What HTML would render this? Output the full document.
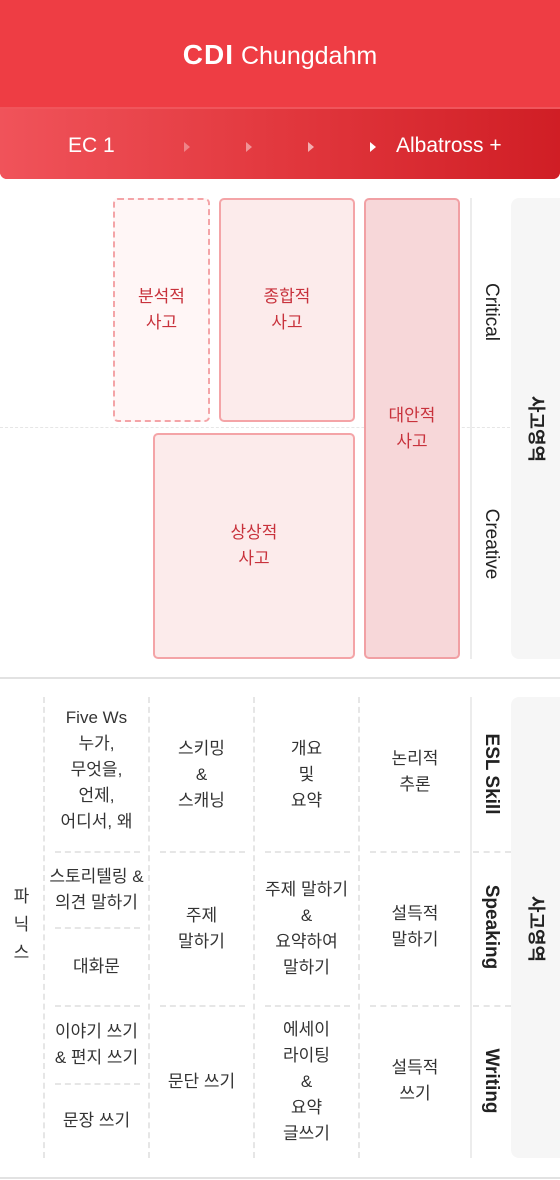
<!DOCTYPE html>
<html><head><meta charset="utf-8">
<style>
*{box-sizing:border-box;margin:0;padding:0}
body{width:560px;height:1180px;background:#fff;position:relative;overflow:hidden;font-family:"Liberation Sans","Noto Sans CJK KR",sans-serif;}
.a{position:absolute}
.c{position:absolute;display:flex;align-items:center;justify-content:center;text-align:center;font-size:17px;line-height:26px;color:#333}
.box{border-radius:5px;color:#c8323c;font-size:17px;line-height:26px}
.rot{position:absolute;transform:rotate(90deg);white-space:nowrap;font-size:19px;color:#222;text-align:center}
.vd{position:absolute;border-left:2px dashed #e6e6e6;width:0}
.hd{position:absolute;border-top:2px dashed #e6e6e6;height:0}
</style></head><body>
<div class="a" style="left:0;top:0;width:560px;height:179px;border-radius:0 0 7px 7px;overflow:hidden;background:#ee3d44">
  <div class="a" style="left:0;top:39px;width:560px;text-align:center;color:#fff;font-size:25px;"><b style="font-size:28px;letter-spacing:1px">CDI</b> Chungdahm</div>
  <div class="a" style="left:0;top:107px;width:560px;height:72px;border-top:2px solid #f0555b;background:linear-gradient(90deg,#f0535a,#e2383e 50%,#d01e25)">
    <div class="a" style="left:68px;top:25px;color:#fff;font-size:21px">EC 1</div>
    <div class="a" style="left:184px;top:33px;width:0;height:0;border-left:6px solid rgba(255,255,255,.35);border-top:5px solid transparent;border-bottom:5px solid transparent"></div>
    <div class="a" style="left:246px;top:33px;width:0;height:0;border-left:6px solid rgba(255,255,255,.45);border-top:5px solid transparent;border-bottom:5px solid transparent"></div>
    <div class="a" style="left:308px;top:33px;width:0;height:0;border-left:6px solid rgba(255,255,255,.6);border-top:5px solid transparent;border-bottom:5px solid transparent"></div>
    <div class="a" style="left:370px;top:33px;width:0;height:0;border-left:6px solid #fff;border-top:5px solid transparent;border-bottom:5px solid transparent"></div>
    <div class="a" style="left:396px;top:25px;color:#fff;font-size:21px">Albatross +</div>
  </div>
</div>

<div class="hd" style="left:0;top:427px;width:510px;border-top:1px dashed #e6e6e6"></div>
<div class="c box" style="left:113px;top:198px;width:97px;height:224px;background:#fff6f6;border:2px dashed #f4a4a7">분석적<br>사고</div>
<div class="c box" style="left:219px;top:198px;width:136px;height:224px;background:#fcebeb;border:2px solid #f4a4a7">종합적<br>사고</div>
<div class="c box" style="left:364px;top:198px;width:96px;height:461px;background:#f7d7d9;border:2px solid #f1a0a4">대안적<br>사고</div>
<div class="c box" style="left:153px;top:433px;width:202px;height:226px;background:#fcebeb;border:2px solid #f4a4a7">상상적<br>사고</div>
<div class="a" style="left:470px;top:198px;width:2px;height:461px;background:#ececec"></div>
<div class="rot" style="left:441px;top:301px;width:100px">Critical</div>
<div class="rot" style="left:441px;top:533px;width:100px">Creative</div>
<div class="a" style="left:511px;top:198px;width:60px;height:461px;background:#f6f6f6;border-radius:8px"></div>
<div class="rot" style="left:497px;top:416px;width:80px;font-weight:bold;font-size:18px">사고영역</div>

<div class="a" style="left:0;top:677px;width:560px;height:2px;background:#e2e2e2"></div>

<div class="vd" style="left:43px;top:697px;height:461px"></div>
<div class="vd" style="left:148px;top:697px;height:461px"></div>
<div class="vd" style="left:253px;top:697px;height:461px"></div>
<div class="vd" style="left:358px;top:697px;height:461px"></div>
<div class="a" style="left:470px;top:697px;width:2px;height:461px;background:#ececec"></div>
<div class="hd" style="left:55px;top:851px;width:85px"></div>
<div class="hd" style="left:160px;top:851px;width:85px"></div>
<div class="hd" style="left:265px;top:851px;width:85px"></div>
<div class="hd" style="left:370px;top:851px;width:90px"></div>
<div class="hd" style="left:473px;top:851px;width:38px"></div>
<div class="hd" style="left:55px;top:927px;width:85px"></div>
<div class="hd" style="left:55px;top:1005px;width:85px"></div>
<div class="hd" style="left:160px;top:1005px;width:85px"></div>
<div class="hd" style="left:265px;top:1005px;width:85px"></div>
<div class="hd" style="left:370px;top:1005px;width:90px"></div>
<div class="hd" style="left:473px;top:1005px;width:38px"></div>
<div class="hd" style="left:55px;top:1083px;width:85px"></div>

<div class="c" style="left:0;top:880px;width:43px;height:90px;line-height:28px">파<br>닉<br>스</div>
<div class="c" style="left:44px;top:705px;width:105px;height:130px">Five Ws<br>누가,<br>무엇을,<br>언제,<br>어디서, 왜</div>
<div class="c" style="left:149px;top:697px;width:105px;height:155px">스키밍<br>&amp;<br>스캐닝</div>
<div class="c" style="left:254px;top:697px;width:105px;height:155px">개요<br>및<br>요약</div>
<div class="c" style="left:359px;top:697px;width:112px;height:150px">논리적<br>추론</div>

<div class="c" style="left:44px;top:852px;width:105px;height:75px">스토리텔링 &amp;<br>의견 말하기</div>
<div class="c" style="left:44px;top:928px;width:105px;height:77px">대화문</div>
<div class="c" style="left:149px;top:852px;width:105px;height:153px">주제<br>말하기</div>
<div class="c" style="left:254px;top:852px;width:105px;height:153px">주제 말하기<br>&amp;<br>요약하여<br>말하기</div>
<div class="c" style="left:359px;top:852px;width:112px;height:150px">설득적<br>말하기</div>

<div class="c" style="left:44px;top:1006px;width:105px;height:77px">이야기 쓰기<br>&amp; 편지 쓰기</div>
<div class="c" style="left:44px;top:1084px;width:105px;height:74px">문장 쓰기</div>
<div class="c" style="left:149px;top:1006px;width:105px;height:152px">문단 쓰기</div>
<div class="c" style="left:254px;top:1006px;width:105px;height:152px">에세이<br>라이팅<br>&amp;<br>요약<br>글쓰기</div>
<div class="c" style="left:359px;top:1006px;width:112px;height:150px">설득적<br>쓰기</div>

<div class="rot" style="left:431px;top:763px;width:120px;font-weight:600">ESL Skill</div>
<div class="rot" style="left:431px;top:916px;width:120px;font-weight:600">Speaking</div>
<div class="rot" style="left:431px;top:1070px;width:120px;font-weight:600">Writing</div>
<div class="a" style="left:511px;top:697px;width:60px;height:461px;background:#f6f6f6;border-radius:8px"></div>
<div class="rot" style="left:497px;top:916px;width:80px;font-weight:bold;font-size:18px">사고영역</div>

<div class="a" style="left:0;top:1177px;width:560px;height:2px;background:#e2e2e2"></div>
</body></html>
